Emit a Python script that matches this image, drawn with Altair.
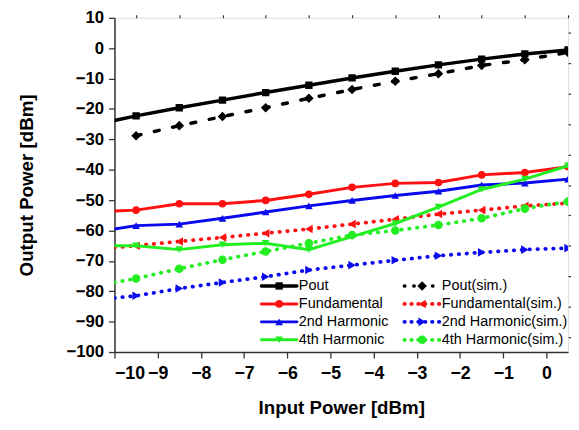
import altair as alt
import pandas as pd

# ---- data ----
x_vals = [-10, -9.5, -8.5, -7.5, -6.5, -5.5, -4.5, -3.5, -2.5, -1.5, -0.5, 0.5]

pout = [-23.8, -22.3, -19.6, -17.1, -14.6, -12.2, -9.8, -7.6, -5.5, -3.6, -1.9, -0.6]
pout_sim = [None, -28.8, -25.5, -22.5, -19.6, -16.5, -13.6, -10.9, -8.4, -5.7, -3.8, -1.4]
fund = [-53.6, -53.3, -51.2, -51.2, -50.1, -48.1, -45.8, -44.5, -44.2, -41.7, -40.9, -39.0]
fund_sim = [-65.6, -65.0, -63.6, -62.3, -60.9, -59.5, -57.9, -56.3, -54.6, -53.3, -51.9, -51.0]
h2 = [-59.5, -58.4, -57.9, -56.0, -53.9, -51.9, -50.1, -48.5, -47.1, -45.0, -44.4, -43.1]
h2_sim = [-82.2, -81.5, -79.1, -77.1, -75.2, -73.0, -71.4, -69.8, -68.3, -67.2, -66.3, -65.8]
h4 = [-65.0, -65.0, -66.3, -64.7, -64.2, -66.3, -62.0, -57.7, -52.3, -46.5, -43.1, -38.7]
h4_sim = [-77.1, -75.8, -72.6, -69.6, -66.9, -64.2, -61.5, -60.0, -58.2, -56.0, -52.8, -50.5]

labels = ["Pout", "Fundamental", "2nd Harmonic", "4th Harmonic",
          "Pout(sim.)", "Fundamental(sim.)", "2nd Harmonic(sim.)", "4th Harmonic(sim.)"]
values = [pout, fund, h2, h4, pout_sim, fund_sim, h2_sim, h4_sim]
colors = ["#000000", "#ff1010", "#0a0aee", "#22ee22",
          "#000000", "#ff1010", "#0a0aee", "#22ee22"]
shapes = ["square", "circle", "triangle-up", "triangle-down",
          "diamond", "triangle-left", "triangle-right", "circle"]
x_major = list(range(-10, 1))
x_minor = [-9.5 + i for i in range(11)]
y_major = list(range(-100, 11, 10))
y_minor = list(range(-95, 10, 10))

# ---- styles ----
FONT = "Liberation Sans"
DOT = [0.5, 7.5]
styles = {
    "Pout": dict(width=3.5, dash=None, size=55),
    "Fundamental": dict(width=3, dash=None, size=60),
    "2nd Harmonic": dict(width=3, dash=None, size=60),
    "4th Harmonic": dict(width=3, dash=None, size=60),
    "Pout(sim.)": dict(width=3.5, dash=[5, 14], size=95),
    "Fundamental(sim.)": dict(width=3.8, dash=DOT, size=75),
    "2nd Harmonic(sim.)": dict(width=3.8, dash=DOT, size=75),
    "4th Harmonic(sim.)": dict(width=3.8, dash=DOT, size=75),
}

xscale = alt.Scale(domain=[-10, 0.5], nice=False, zero=False)
yscale = alt.Scale(domain=[-100, 10], nice=False, zero=False)
common = dict(grid=False, labelOverlap=False, labelFont=FONT, labelFontWeight="bold",
              labelColor="black", titleFont=FONT, titleFontSize=19, titleFontWeight="bold",
              titleColor="black", tickColor="#333", domainColor="#333", domainWidth=1.5,
              tickWidth=1.3)
xaxis = alt.Axis(values=x_major, format="d", title="Input Power [dBm]", labelFontSize=18,
                 tickSize=6, labelPadding=7, titlePadding=16, **common)
yaxis = alt.Axis(values=y_major, format="d", title="Output Power [dBm]", labelFontSize=17,
                 tickSize=6, labelPadding=5, titlePadding=30, **common)
xaxis_minor = alt.Axis(values=x_minor, labels=False, title=None, tickSize=3, grid=False,
                       domain=False, tickColor="#333", tickWidth=1.2)
yaxis_minor = alt.Axis(values=y_minor, labels=False, title=None, tickSize=3, grid=False,
                       domain=False, tickColor="#333", tickWidth=1.2)

layers = []
order = [4, 5, 6, 7, 0, 1, 2, 3]
for i in order:
    lab = labels[i]
    st = styles[lab]
    df = pd.DataFrame({"x": x_vals, "y": values[i]}).dropna()
    line_kw = dict(color=colors[i], strokeWidth=st["width"], clip=True, strokeCap="round")
    if st["dash"]:
        line_kw["strokeDash"] = st["dash"]
    line = alt.Chart(df).mark_line(**line_kw).encode(
        x=alt.X("x:Q", scale=xscale, axis=xaxis),
        y=alt.Y("y:Q", scale=yscale, axis=yaxis),
    )
    pts = alt.Chart(df[df["x"] > -10]).mark_point(
        shape=shapes[i], filled=True, color=colors[i], size=st["size"], opacity=1, clip=True
    ).encode(
        x=alt.X("x:Q", scale=xscale, axis=xaxis),
        y=alt.Y("y:Q", scale=yscale, axis=yaxis),
    )
    layers += [line, pts]

# ---- custom legend (pixel layout inside the plot) ----
leg_rows = []
for i, lab in enumerate(labels):
    col = i // 4
    row = i % 4
    x0 = 149 + col * 145
    leg_rows.append(dict(label=lab, idx=i, x1=x0, x2=x0 + 36, xm=x0 + 18,
                         xt=x0 + 38, y=272 + row * 18.2))
leg = pd.DataFrame(leg_rows)
for i, lab in enumerate(labels):
    st = styles[lab]
    d = leg[leg["idx"] == i]
    rk = dict(color=colors[i], strokeWidth=st["width"], strokeCap="round")
    if st["dash"]:
        rk["strokeDash"] = [0.5, 6.5] if lab != "Pout(sim.)" else [0.5, 9]
    layers.append(alt.Chart(d).mark_rule(**rk).encode(
        x=alt.X("x1:Q", scale=None), x2="x2:Q", y=alt.Y("y:Q", scale=None)))
    layers.append(alt.Chart(d).mark_point(shape=shapes[i], filled=True, color=colors[i],
                                          size=st["size"], opacity=1).encode(
        x=alt.X("xm:Q", scale=None), y=alt.Y("y:Q", scale=None)))
layers.append(alt.Chart(leg).mark_text(align="left", baseline="middle", font=FONT,
                                       fontSize=14.6, color="black").encode(
    x=alt.X("xt:Q", scale=None), y=alt.Y("y:Q", scale=None), text="label:N"))

# minor ticks via an invisible layer with its own axes
minor = alt.Chart(pd.DataFrame({"x": [-10], "y": [-100]})).mark_point(opacity=0).encode(
    x=alt.X("x:Q", scale=xscale, axis=xaxis_minor),
    y=alt.Y("y:Q", scale=yscale, axis=yaxis_minor),
)

main = alt.layer(*layers)
chart = alt.layer(main, minor).resolve_axis(x="independent", y="independent").properties(
    width=460, height=339,
    autosize=alt.AutoSizeParams(type="none"),
    padding={"left": 108, "top": 7, "right": 3, "bottom": 66},
).configure_view(stroke="#555", strokeWidth=1.5).configure(background="white")

chart.save("out.html", embed_options={"renderer": "svg", "actions": False})
